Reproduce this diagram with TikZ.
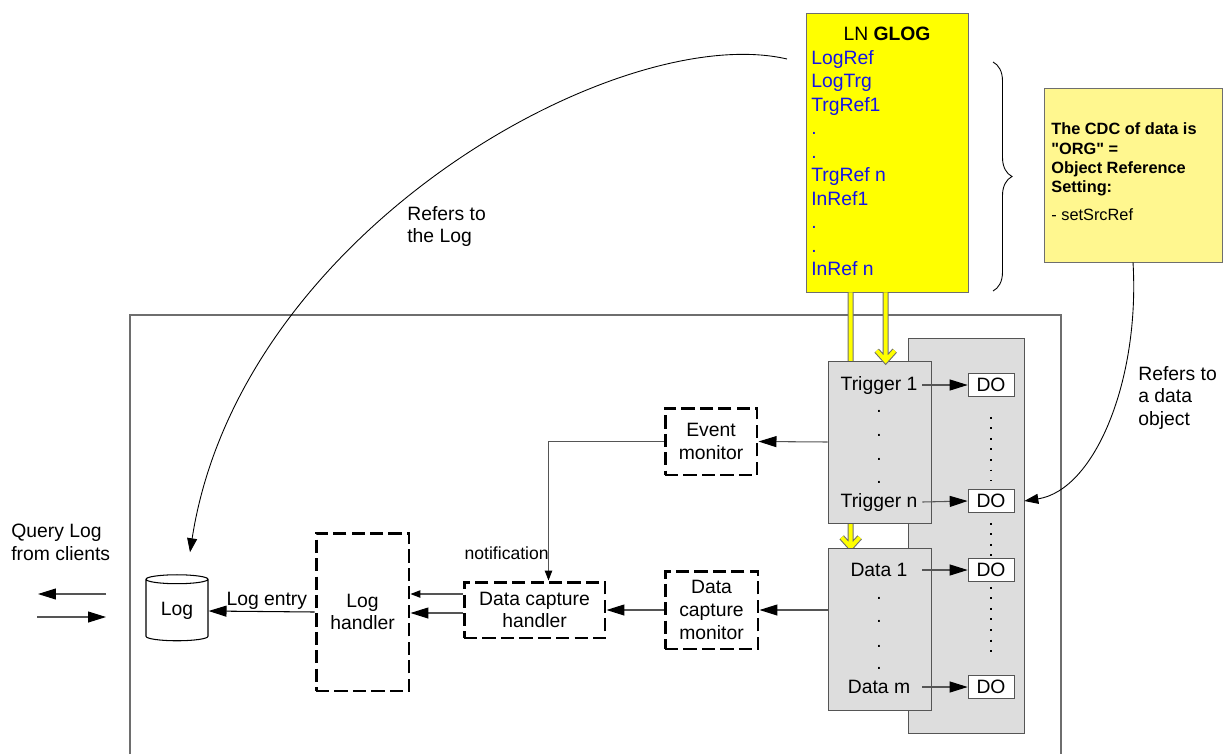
\documentclass[tikz,border=0pt]{standalone}
\usepackage{fontspec}
\setmainfont{Liberation Sans}
\usetikzlibrary{arrows.meta,shapes.geometric,decorations.pathreplacing,calc}
\definecolor{glogfill}{HTML}{FFFF00}
\definecolor{notefill}{HTML}{FFF78F}
\definecolor{panelfill}{HTML}{DDDDDD}
\definecolor{edgegray}{HTML}{6E6E6E}
\definecolor{linegray}{HTML}{555555}
\definecolor{refblue}{HTML}{1414E6}
\tikzset{
  lbl/.style={font=\fontsize{11}{13}\selectfont, inner sep=1pt, align=center},
  sidetext/.style={lbl, anchor=west, align=left, inner sep=0pt},
  reftext/.style={font=\fontsize{11}{13}\selectfont, text=refblue, anchor=base west, inner sep=0pt},
  dashbox/.style={lbl, draw, line width=1.7pt, dash pattern=on 7.5pt off 3pt},
  graybox/.style={draw=linegray, fill=panelfill, minimum width=2.06cm, minimum height=3.24cm},
  rowlbl/.style={lbl, minimum width=1.72cm, inner sep=0pt},
  dobox/.style={draw=linegray, fill=white, minimum width=0.92cm, minimum height=0.46cm,
                inner sep=0pt, font=\fontsize{11}{13}\selectfont},
  conn/.style={draw=linegray, line width=0.6pt, -{Triangle[length=0.36cm, width=0.22cm, color=black]}},
  smallconn/.style={draw=linegray, line width=0.6pt, -{Triangle[length=0.2cm, width=0.15cm, color=black]}},
  curvearrow/.style={draw=black, line width=0.5pt, -{Triangle[length=0.28cm, width=0.2cm]}},
  dotcol/.style={draw=black, line width=1.1pt, dash pattern=on 1.1pt off 4.9pt},
  pipe/.style={draw=edgegray, double=glogfill, line width=0.6pt, double distance=2.2pt},
}

\begin{document}
\begin{tikzpicture}[x=0.02cm, y=-0.02cm]
    \useasboundingbox (0,0) rectangle (1223,754);
    % outer frame, open at the bottom
    \draw[edgegray, line width=0.6pt] (130,754) -- (130,315) -- (1061,315) -- (1061,754);

    % logical node GLOG
    \node[draw=edgegray, fill=glogfill, minimum width=3.24cm, minimum height=5.58cm] (glog) at (887,152.5) {};
    \node[lbl, anchor=base, inner sep=0pt] (glogttl) at (887,40) {LN \textbf{GLOG}};
    \foreach \t [count=\i] in {LogRef, LogTrg, TrgRef1, ., ., TrgRef n, InRef1, ., ., InRef n}
      \node[reftext] (ref\i) at (811, 40.5+23.5*\i) {\t};
    \draw[decorate, decoration={brace, amplitude=0.38cm}, line width=0.5pt] (993,62) -- (993,291);

    % note
    \node[draw=edgegray, fill=notefill, minimum width=3.56cm, minimum height=3.48cm] (note) at (1133,175) {};
    \node[anchor=west, align=left, inner sep=0pt, font=\fontsize{9.3}{11}\selectfont] (notetxt) at (1051,172)
      {\textbf{The CDC of data is}\\\textbf{\textquotedbl ORG\textquotedbl\ =}\\\textbf{Object Reference}\\\textbf{Setting:}\\[5pt]- setSrcRef};

    % data object panel
    \node[draw=linegray, fill=panelfill, minimum width=2.32cm, minimum height=7.9cm] (pnl) at (966,535.5) {};
    \coordinate (pipel) at ($(glog.south west)+(45,0)$);
    \coordinate (piper) at ($(glog.south west)+(80,0)$);
    \draw[pipe] (pipel) -- ++(0,255) ++(-9,-10) -- ++(9,10) -- ++(9,-10);

    % triggers and data
    \node[graybox] (trg) at (879.5,442) {};
    \node[graybox] (dat) at (879.5,629) {};
    \draw[pipe] (piper) -- (piper |- trg.north) ++(-9,-10) -- ++(9,10) -- ++(9,-10);
    \node[rowlbl] (t1) at (879,385) {Trigger 1};
    \foreach \y in {411,435,459,482}
      \node[lbl] (tdot\y) at (879,\y) {.};
    \node[rowlbl] (tn) at (879,502) {Trigger n};
    \node[rowlbl] (d1) at (879,570) {Data 1};
    \foreach \y in {598,621,646,668}
      \node[lbl] (ddot\y) at (879,\y) {.};
    \node[rowlbl] (dm) at (879,687) {Data m};

    \foreach \n/\y in {1/385, 2/501, 3/570, 4/687}
      \node[dobox] (do\n) at (991,\y) {DO};
    \draw[conn] (t1.east) -- (do1.west);
    \draw[conn] (tn.east) -- (do2.west);
    \draw[conn] (d1.east) -- (do3.west);
    \draw[conn] (dm.east) -- (do4.west);
    \draw[dotcol, shorten <=0.4cm, shorten >=0.16cm] (do1.south) -- (do2.north);
    \draw[dotcol, shorten <=0.2cm, shorten >=0.02cm] (do2.south) -- (do3.north);
    \draw[dotcol, shorten <=0.1cm, shorten >=0.44cm] (do3.south) -- (do4.north);

    % monitors and handlers
    \node[dashbox, minimum width=1.84cm, minimum height=1.34cm] (evm) at (711,441.5) {Event\\monitor};
    \node[dashbox, minimum width=1.86cm, minimum height=1.56cm] (dcm) at (711.5,610) {Data\\capture\\monitor};
    \node[dashbox, minimum width=2.82cm, minimum height=1.12cm] (dch) at (534.5,610) {Data capture\\handler};
    \node[dashbox, minimum width=1.86cm, minimum height=3.16cm] (lgh) at (362.5,612) {Log\\handler};
    \node[lbl, draw, line width=0.6pt, shape=cylinder, shape border rotate=90, aspect=0.25,
          minimum width=1.24cm, minimum height=1.32cm] (log) at (177,611) {Log};

    \draw[conn] (trg.west) -- (evm.east);
    \draw[smallconn] (evm.west) -| ($(dch.north)+(14,0)$);
    \node[lbl, anchor=east, inner sep=0pt, font=\fontsize{10}{12}\selectfont] (ntf) at (549,553) {notification};
    \draw[conn] (dat.west |- dcm.east) -- (dcm.east);
    \draw[conn] (dcm.west) -- (dch.east);
    \draw[smallconn] ($(dch.west)+(0,-16)$) -- ($(lgh.east)+(0,-18)$);
    \draw[conn] ($(dch.west)+(0,3)$) -- ($(lgh.east)+(0,1)$);
    \draw[conn, draw=black] (lgh.west) -- node[lbl, above, pos=0.45] (logentry) {Log entry} (log.east);

    % clients
    \node[sidetext] (querytxt) at (11,542) {Query Log\\from clients};
    \coordinate (qa) at (106,594);
    \coordinate (qb) at (38,594);
    \coordinate (qc) at (37,617);
    \coordinate (qd) at (106,617);
    \draw[conn] (qa) -- (qb);
    \draw[conn] (qc) -- (qd);

    % references
    \coordinate (reflog) at (787,59);
    \draw[curvearrow] (reflog) .. controls (620,20) and (240,230) .. ($(log.north)+(13,-22)$);
    \node[sidetext] (reflogtxt) at (407,226.5) {Refers to\\the Log};
    \draw[curvearrow] (note.south) .. controls (1140,380) and (1095,490) .. (pnl.east |- do2);
    \node[sidetext] (refdotxt) at (1138,398) {Refers to\\a data\\object};
  \end{tikzpicture}
\end{document}
